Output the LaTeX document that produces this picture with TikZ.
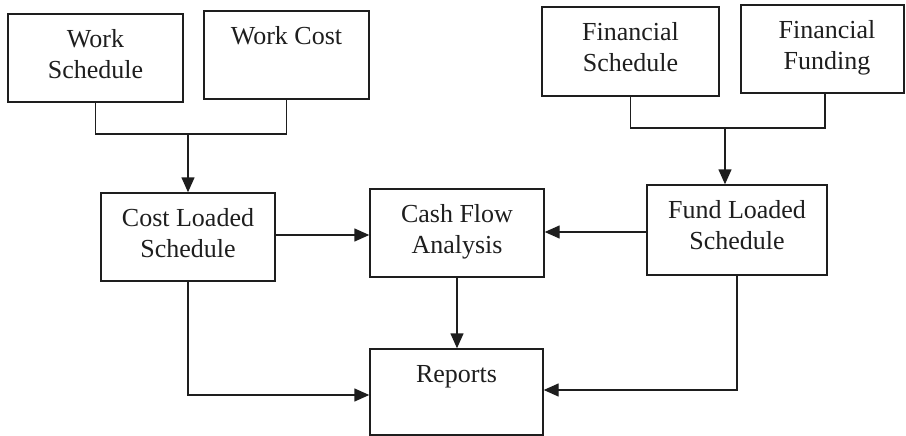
\documentclass[tikz,border=0pt]{standalone}
\usepackage{fontspec}
\setmainfont{Liberation Serif}
\usetikzlibrary{arrows.meta}
\definecolor{ink}{HTML}{1E1E1E}
\begin{document}
\begin{tikzpicture}[x=1pt,y=-1pt,
  box/.style={draw=ink, line width=1.4pt, rectangle, inner sep=0pt},
  lbl/.style={anchor=base, inner sep=0pt, text=ink, font=\fontsize{26}{31}\selectfont},
  link/.style={draw=ink, line width=1.4pt},
  arr/.style={link, -{Triangle[length=15pt,width=13pt]}}]
\useasboundingbox (0,0) rectangle (906,436);

% boxes: centre and size from their corners
\newcommand{\mkbox}[5]{%
  \node[box, minimum width={#4-#2}, minimum height={#5-#3}]
    (#1) at ({(#2+#4)/2},{(#3+#5)/2}) {};}
\mkbox{ws}{8}{14}{183}{102}
\mkbox{wc}{204}{11}{369}{99}
\mkbox{fs}{542}{7}{719}{96}
\mkbox{ff}{741}{5}{904}{93}
\mkbox{cl}{101}{193}{275}{281}
\mkbox{cf}{370}{189}{544}{277}
\mkbox{fl}{647}{185}{827}{275}
\mkbox{rp}{370}{349}{543}{435}

% labels, set from the top edge of each box
\node[lbl] (ws1) at ([yshift=-34pt]ws.north) {Work};
\node[lbl] (ws2) at ([yshift=-65pt]ws.north) {Schedule};
\node[lbl] (wc1) at ([yshift=-34pt]wc.north) {Work Cost};
\node[lbl] (fs1) at ([yshift=-34pt]fs.north) {Financial};
\node[lbl] (fs2) at ([yshift=-65pt]fs.north) {Schedule};
\node[lbl] (ff1) at (827,39) {Financial};
\node[lbl] (ff2) at (827,70) {Funding};
\node[lbl] (cl1) at ([yshift=-34pt]cl.north) {Cost Loaded};
\node[lbl] (cl2) at ([yshift=-65pt]cl.north) {Schedule};
\node[lbl] (cf1) at ([yshift=-34pt]cf.north) {Cash Flow};
\node[lbl] (cf2) at ([yshift=-65pt]cf.north) {Analysis};
\node[lbl] (fl1) at ([yshift=-34pt]fl.north) {Fund Loaded};
\node[lbl] (fl2) at ([yshift=-65pt]fl.north) {Schedule};
\node[lbl] (rp1) at ([yshift=-34pt]rp.north) {Reports};

% merging brackets
\coordinate (j1) at (188,134);
\coordinate (j2) at (725,128);
\coordinate (ffb) at (825,93);
\draw[link] (ws.south) |- (j1) -| (wc.south);
\draw[arr] (j1) -- (j1 |- cl.north);
\draw[link] (fs.south) |- (j2) -| (ffb);
\draw[arr] (j2) -- (j2 |- fl.north);

% flows between the schedules, the analysis and the reports
\draw[arr] ([yshift=2pt]cl.east) -- ([yshift=2pt]cl.east -| cf.west);
\draw[arr] ([yshift=-2pt]fl.west) -- ([yshift=-2pt]fl.west -| cf.east);
\draw[arr] (cf.south) -- (cf.south |- rp.north);
\draw[arr] (cl.south) |- ([yshift=-3pt]rp.west);
\draw[arr] (fl.south) |- ([yshift=2pt]rp.east);
\end{tikzpicture}
\end{document}
